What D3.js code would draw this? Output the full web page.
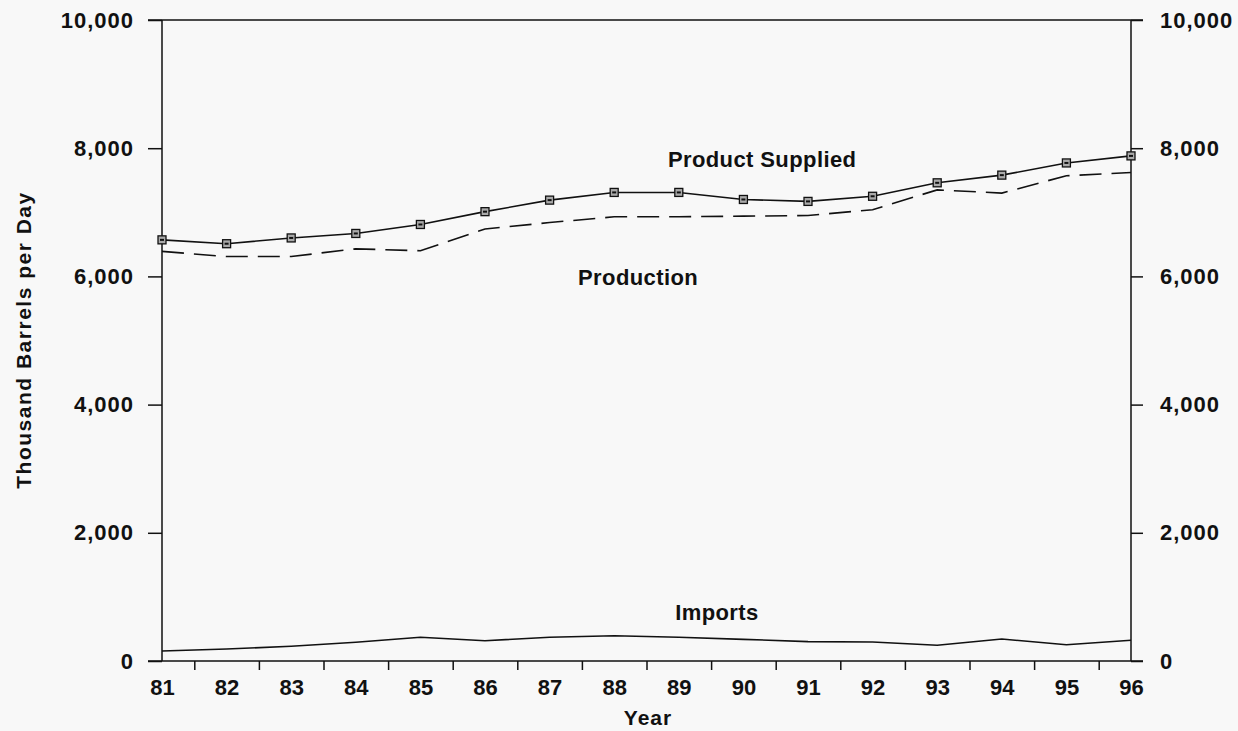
<!DOCTYPE html>
<html>
<head>
<meta charset="utf-8">
<script src="https://cdn.jsdelivr.net/npm/d3@7"></script>
<style>
  html, body { margin: 0; padding: 0; background: #f8f8f8; }
  svg { display: block; }
  text { font-family: "Liberation Sans", Arial, Helvetica, sans-serif; font-weight: bold; fill: #111; }
</style>
</head>
<body>
<svg id="chart" width="1238" height="731"></svg>
<script>
// ---- data ----
const years = [81, 82, 83, 84, 85, 86, 87, 88, 89, 90, 91, 92, 93, 94, 95, 96];
const productSupplied = [6570, 6510, 6600, 6670, 6810, 7010, 7190, 7310, 7310, 7200, 7170, 7250, 7460, 7580, 7770, 7880];
const production = [6390, 6310, 6310, 6430, 6400, 6740, 6840, 6930, 6930, 6940, 6950, 7040, 7350, 7300, 7570, 7620];
const imports = [156, 187, 229, 292, 370, 317, 370, 395, 370, 338, 302, 296, 245, 343, 254, 323];
const yTicks = [0, 2000, 4000, 6000, 8000, 10000];
const xTickMarks = [81.5, 82.5, 83.5, 84.5, 85.5, 86.5, 87.5, 88.5, 89.5, 90.5, 91.5, 92.5, 93.5, 94.5, 95.5];
const seriesLabels = [
  { text: "Product Supplied", x: 90.29, y: 7700 },
  { text: "Production", x: 88.37, y: 5870 },
  { text: "Imports", x: 89.59, y: 640 }
];
const yTitle = "Thousand Barrels per Day";
const xTitle = "Year";

// ---- scales ----
const svg = d3.select("#chart");
const x = d3.scaleLinear().domain([81, 96]).range([162, 1131]);
const y = d3.scaleLinear().domain([0, 10000]).range([661, 20]);
const fmt = d3.format(",");

// frame: left & right axes, top & bottom lines (extending like ticks)
const [x0, x1] = x.range();
const [yb, yt] = y.range();
const frame = svg.append("g").attr("stroke", "#111").attr("stroke-width", 1.5).attr("fill", "none");
frame.append("line").attr("x1", x0).attr("x2", x0).attr("y1", yb).attr("y2", yt);
frame.append("line").attr("x1", x1).attr("x2", x1).attr("y1", yb).attr("y2", yt);
frame.append("line").attr("x1", x0 - 14).attr("x2", x1 + 12).attr("y1", yt).attr("y2", yt);
frame.append("line").attr("x1", x0 - 14).attr("x2", x1 + 12).attr("y1", yb).attr("y2", yb);

// left axis
const gl = svg.append("g").attr("transform", `translate(${x0},0)`)
  .call(d3.axisLeft(y).tickValues(yTicks).tickFormat(fmt).tickSize(14).tickPadding(14).tickSizeOuter(0));
// right axis
const gr = svg.append("g").attr("transform", `translate(${x1},0)`)
  .call(d3.axisRight(y).tickValues(yTicks).tickFormat(fmt).tickSize(12).tickPadding(17).tickSizeOuter(0));
// bottom ticks at half years
const gbt = svg.append("g").attr("transform", `translate(0,${yb})`)
  .call(d3.axisBottom(x).tickValues(xTickMarks).tickSize(9).tickFormat("").tickSizeOuter(0));
// bottom labels at years
const gbl = svg.append("g").attr("transform", `translate(0,${yb})`)
  .call(d3.axisBottom(x).tickValues(years).tickSize(0).tickPadding(18).tickFormat(d => String(d)).tickSizeOuter(0));

[gl, gr, gbt, gbl].forEach(g => {
  g.select(".domain").remove();
  g.selectAll(".tick line").attr("stroke", "#111").attr("stroke-width", 1.5);
  g.selectAll(".tick text")
    .style("font-family", '"Liberation Sans", Arial, sans-serif')
    .style("font-weight", "bold")
    .style("font-size", "22px")
    .attr("fill", "#111");
});
gl.selectAll(".tick text").style("letter-spacing", "1px");
gr.selectAll(".tick text").style("letter-spacing", "1px");

// lines
const line = (arr) => d3.line().x((d, i) => x(years[i])).y(d => y(d))(arr);

svg.append("path").attr("d", line(imports))
  .attr("fill", "none").attr("stroke", "#111").attr("stroke-width", 1.6);
svg.append("path").attr("d", line(production))
  .attr("fill", "none").attr("stroke", "#111").attr("stroke-width", 1.6)
  .attr("stroke-dasharray", "22,10");
svg.append("path").attr("d", line(productSupplied))
  .attr("fill", "none").attr("stroke", "#111").attr("stroke-width", 1.6);

// markers on Product Supplied
const mk = svg.append("g").selectAll("g").data(productSupplied).join("g")
  .attr("transform", (d, i) => `translate(${x(years[i])},${y(d)})`);
mk.append("rect").attr("x", -4).attr("y", -4).attr("width", 8).attr("height", 8)
  .attr("fill", "#aaa").attr("stroke", "#111").attr("stroke-width", 1.3);
mk.append("rect").attr("x", -2).attr("y", -1).attr("width", 4).attr("height", 2)
  .attr("fill", "#111");

// series labels
svg.append("g").selectAll("text").data(seriesLabels).join("text")
  .attr("x", d => x(d.x)).attr("y", d => y(d.y))
  .attr("text-anchor", "middle")
  .style("font-size", "22px").style("letter-spacing", "0.4px")
  .text(d => d.text);

// axis titles
svg.append("text").attr("x", 648).attr("y", 725).attr("text-anchor", "middle")
  .style("font-size", "21px").style("letter-spacing", "1px").text(xTitle);
svg.append("text").attr("transform", "translate(31,340) rotate(-90)").attr("text-anchor", "middle")
  .style("font-size", "21px").style("letter-spacing", "1.5px").text(yTitle);
</script>
</body>
</html>
